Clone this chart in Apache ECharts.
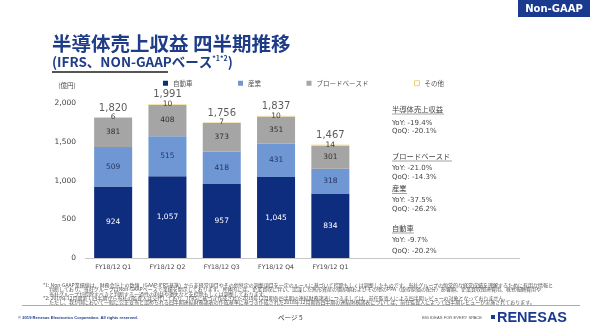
<!DOCTYPE html>
<html><head><meta charset="utf-8">
<script src="https://cdn.jsdelivr.net/npm/echarts@6/dist/echarts.min.js"></script>
<style>html,body{margin:0;padding:0;background:#fff}#c{width:590px;height:331px}</style>
</head><body><div id="c"></div>
<script>
var categories = ['FY18/12 Q1','FY18/12 Q2','FY18/12 Q3','FY18/12 Q4','FY19/12 Q1'];
var seriesNames = ['自動車','産業','ブロードベースド','その他'];
var automotive = [924,1057,957,1045,834];
var industrial = [509,515,418,431,318];
var broadBased = [381,408,373,351,301];
var others = [6,10,7,10,14];
var totals = [1820,1991,1756,1837,1467];
var yTicks = [0,500,1000,1500,2000];

var JP = "'Noto Sans CJK JP'";
var NUM = "'DejaVu Sans', 'Noto Sans CJK JP'";
var NAVY = '#0f2d7f';
var colors = [NAVY,'#6f97d3','#a5a5a5','#fbe39a'];

function txt(x,y,text,font,fill,align,valign){
  return {type:'text',x:x,y:y,silent:true,style:{text:text,font:font,fill:fill||'#444',
    textAlign:align||'left',textVerticalAlign:valign||'middle',align:align||'left',verticalAlign:valign||'middle'}};
}
function line(x1,y1,x2,y2,stroke,w){
  return {type:'line',silent:true,shape:{x1:x1,y1:y1,x2:x2,y2:y2},style:{stroke:stroke,lineWidth:w||1}};
}
var mctx = document.createElement('canvas').getContext('2d');
function measure(text,font){ mctx.font = font; return mctx.measureText(text).width; }

var notes = [
 '*1: Non-GAAP業績値は、財務会計上の数値（GAAP:IFRS基準）から非経常項目やその他特定の調整項目を一定のルールに基づいて控除もしくは調整したものです。当社グループの恒常的な経営成績を理解するために有用な情報と',
 '判断しており、当社グループはNon-GAAPベースで業績を開示しております。具体的には、企業買収に伴い、認識した無形資産の償却額およびその他のPPA（取得原価の配分）影響額、企業買収関連費用、株式報酬費用や',
 '当社グループが控除すべきと判断する一過性の利益や損失などを控除もしくは調整しております。',
 '*2: 2019年12月期第１四半期から当社の監査人は交代しており、IFRSに基づき作成された2018年12月期各四半期の連結財務諸表につきましては、前任監査人による四半期レビューの対象となっておりません。',
 'ただし、我が国において一般に公正妥当と認められる四半期連結財務諸表の作成基準に基づき作成された2018年12月期各四半期の連結財務諸表については、前任監査人によって四半期レビューが実施されております。'
];
var noteX = [43,49,49,43,49];
var noteY = [285,289.4,293.8,298.2,302.6];
var NOTE_FONT = "10px " + JP;
var noteScale = 510 / measure(notes[0], NOTE_FONT);

var copyText = '© 2019 Renesas Electronics Corporation. All rights reserved.';
var copyFont = "bold 10px 'Liberation Sans'";
var copyScale = 120 / measure(copyText, copyFont);
var bigText = 'BIG IDEAS FOR EVERY SPACE';
var bigFont = "10px 'Liberation Sans Narrow','Liberation Sans'";
var bigScale = 60 / measure(bigText, bigFont);
var logoFont = "bold 20px 'Liberation Sans'";
var logoScale = 70 / measure('RENESAS', logoFont);

function stxt(x,y,text,font,fill,s){
  var t = txt(0,0,text,font,fill);
  t.x = x; t.y = y; t.scaleX = s; t.scaleY = s;
  return t;
}

var graphics = [
  {type:'rect',shape:{x:518,y:0,width:72,height:17},style:{fill:'#1a3a8f'},silent:true},
  txt(554,9,'Non-GAAP',"bold 10px 'DejaVu Sans'",'#fff','center'),
  txt(52,44,'半導体売上収益 四半期推移',"bold 19.5px "+JP,'#1f3c88'),
  {type:'text',x:52,y:62,silent:true,style:{text:'{a|(IFRS、NON-GAAPベース}{s|*1*2}{a|)}',
    rich:{a:{font:"bold 13.5px "+JP,fill:'#1f3c88'},s:{font:"bold 7px "+JP,fill:'#1f3c88',verticalAlign:'top',padding:[0,0,8,0]}},
    textVerticalAlign:'middle',verticalAlign:'middle'}},
  line(52,72,168,72,'#555',2),
  txt(67,86,'(億円)',"6.5px "+JP,'#444','center'),
  line(85,258.5,520,258.5,'#c8c8c8',1),
  txt(392,109,'半導体売上収益',"7.3px "+JP,'#444'), line(392,114,444,114,'#666',0.6),
  txt(392,123,'YoY: -19.4%',"7px "+NUM,'#444'),
  txt(392,131.5,'QoQ: -20.1%',"7px "+NUM,'#444'),
  txt(392,156,'ブロードベースド',"7.3px "+JP,'#444'), line(392,161,452,161,'#666',0.6),
  txt(392,168,'YoY: -21.0%',"7px "+NUM,'#444'),
  txt(392,177,'QoQ: -14.3%',"7px "+NUM,'#444'),
  txt(392,188.5,'産業',"7.3px "+JP,'#444'), line(392,193.5,407,193.5,'#666',0.6),
  txt(392,200,'YoY: -37.5%',"7px "+NUM,'#444'),
  txt(392,209,'QoQ: -26.2%',"7px "+NUM,'#444'),
  txt(392,228,'自動車',"7.3px "+JP,'#444'), line(392,233,414,233,'#666',0.6),
  txt(392,240,'YoY: -9.7%',"7px "+NUM,'#444'),
  txt(392,251,'QoQ: -20.2%',"7px "+NUM,'#444'),
  line(22,305.5,580,305.5,'#888',0.7),
  stxt(18,318,copyText,copyFont,'#1f3c88',copyScale),
  txt(278,318,'ページ 5',"6.5px "+JP,'#333'),
  stxt(422,318,bigText,bigFont,'#555',bigScale),
  {type:'rect',shape:{x:491,y:315,width:4,height:4},style:{fill:'#1a3a8f'},silent:true},
  stxt(497,318,'RENESAS',logoFont,'#1a3a8f',logoScale)
];
notes.forEach(function(t,i){ graphics.push(stxt(noteX[i],noteY[i],t,NOTE_FONT,'#555',noteScale)); });

function stackSeries(name,data,color,labelColor){
  return {name:name,type:'bar',stack:'s',data:data,barWidth:'70%',itemStyle:{color:color},
    label:{show:true,position:'inside',color:labelColor,fontSize:7.5,fontFamily:NUM,
      formatter:function(p){return p.value.toLocaleString('en-US');}}};
}

var chart = echarts.init(document.getElementById('c'),null,{renderer:'canvas'});
chart.setOption({
  animation:false,
  textStyle:{fontFamily:JP},
  grid:{left:86,width:271.5,top:103.2,bottom:73,containLabel:false},
  legend:{left:163,top:80,padding:0,itemWidth:5,itemHeight:5,itemGap:45.5,icon:'rect',
    textStyle:{fontSize:6.5,color:'#555',fontFamily:JP},
    data:[{name:seriesNames[0]},{name:seriesNames[1]},{name:seriesNames[2]},
      {name:seriesNames[3],itemStyle:{color:'#fff',borderColor:'#f0d070',borderWidth:1}}]},
  xAxis:{type:'category',data:categories,axisLine:{show:false},axisTick:{show:false},
    axisLabel:{fontSize:6.2,color:'#444',fontFamily:NUM,margin:6}},
  yAxis:{type:'value',min:yTicks[0],max:yTicks[yTicks.length-1],interval:500,splitLine:{show:false},
    axisLine:{show:false},axisTick:{show:false},
    axisLabel:{fontSize:7.5,color:'#444',fontFamily:NUM,margin:10,formatter:function(v){return v.toLocaleString('en-US');}}},
  series:[
    stackSeries(seriesNames[0],automotive,colors[0],'#fff'),
    stackSeries(seriesNames[1],industrial,colors[1],'#2a3560'),
    stackSeries(seriesNames[2],broadBased,colors[2],'#333'),
    stackSeries(seriesNames[3],others,colors[3],'#444'),
    {name:'total',type:'scatter',data:totals,symbolSize:0,silent:true,
      label:{show:true,position:'top',distance:4,color:'#333',fontSize:10,fontFamily:NUM,
        formatter:function(p){return p.value.toLocaleString('en-US');}}}
  ],
  graphic:graphics
});
</script></body></html>
